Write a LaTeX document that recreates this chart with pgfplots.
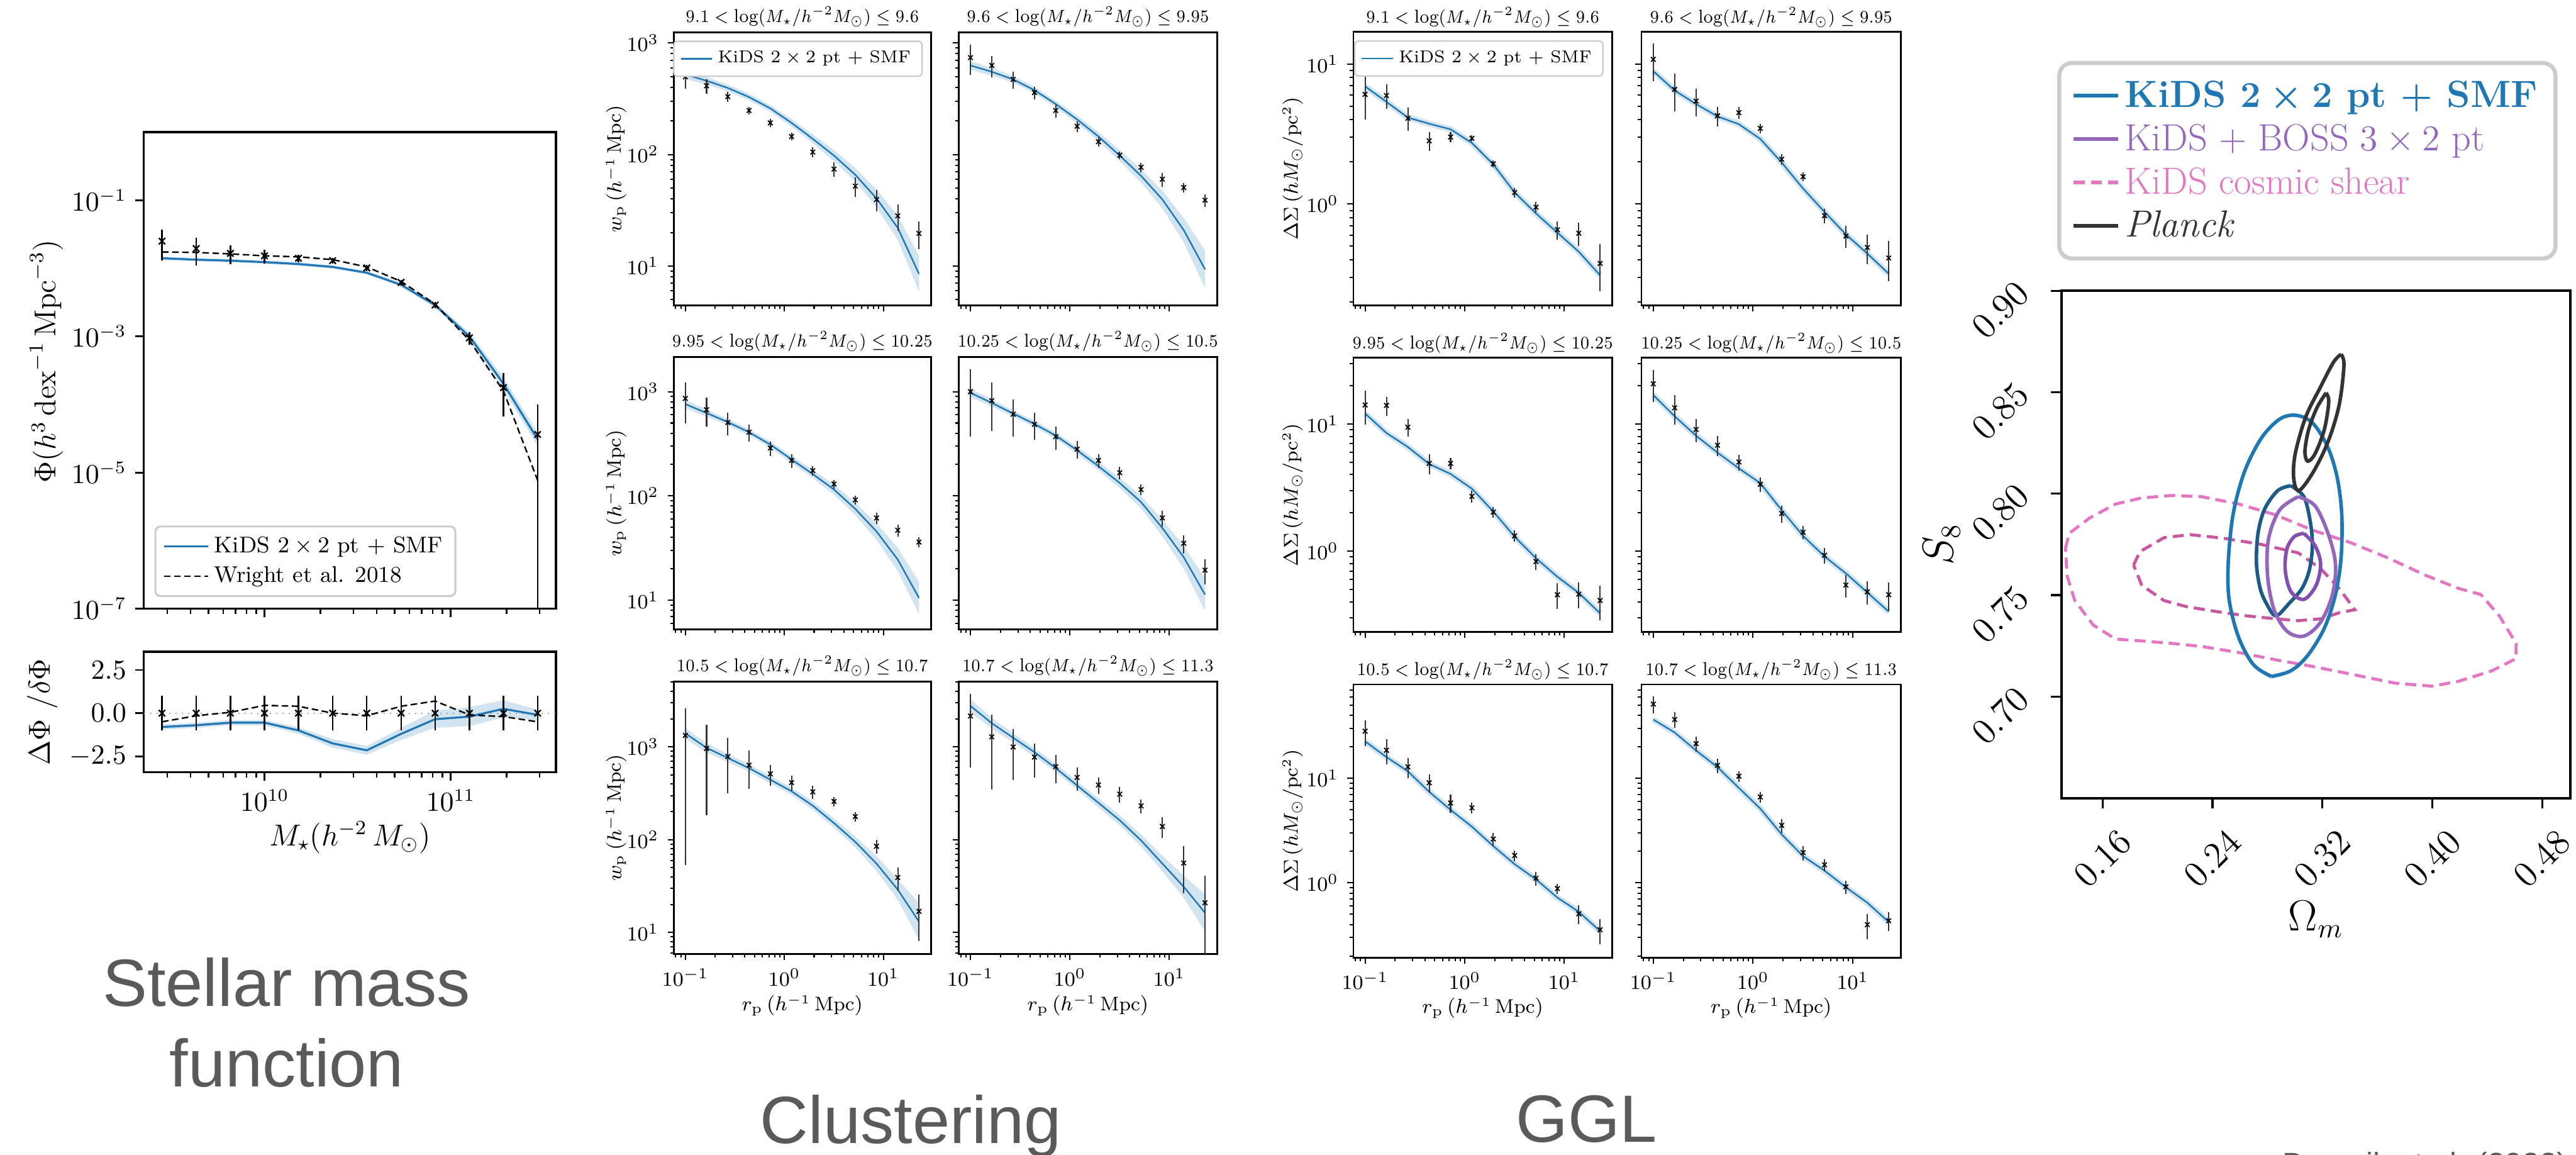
\documentclass[border=0pt]{standalone}
\usepackage{amsmath}
\usepackage{fontspec}
\usepackage{pgfplots}
\pgfplotsset{compat=1.18}
\usepackage{pgfplotstable}
\usepgfplotslibrary{fillbetween}
\newfontfamily\slidesans{Liberation Sans}

\definecolor{c0}{HTML}{1F77B4}
\definecolor{bandblue}{rgb}{0.824,0.893,0.941}
\definecolor{c0dark}{HTML}{1C5A87}
\definecolor{cpurple}{HTML}{9467BD}
\definecolor{cpurpledark}{HTML}{8450B0}
\definecolor{cpink}{HTML}{E377C2}
\definecolor{cpinkdark}{HTML}{C9589F}
\definecolor{cplanck}{HTML}{333333}
\definecolor{slidegray}{HTML}{5A5A5A}
\definecolor{legframe}{HTML}{CCCCCC}

\newcommand{\rplabel}{$r_{\mathrm{p}}\,(h^{-1}\,\mathrm{Mpc})$}
\newcommand{\wplabel}{$w_{\mathrm{p}}\,(h^{-1}\,\mathrm{Mpc})$}
\newcommand{\dslabel}{$\Delta\Sigma\,(hM_\odot/\mathrm{pc}^2)$}
\newcommand{\mbin}[2]{$#1<\log(M_\star/h^{-2}M_\odot)\leq #2$}

% ---------- stellar mass function ----------
\pgfplotstableread{
x y ep em m lo hi w
2.81e9 0.0251 0.012 0.012 0.01409 0.01330 0.01492 0.01742
4.29e9 0.01954 0.0085 0.0085 0.01343 0.01268 0.01422 0.01714
6.55e9 0.0166 0.005 0.005 0.01298 0.01226 0.01375 0.01633
9.98e9 0.01528 0.0035 0.0035 0.01236 0.01167 0.01309 0.01528
1.52e10 0.01409 0.0017 0.0017 0.01158 0.01094 0.01226 0.01479
2.32e10 0.0130 0.0012 0.0012 0.01050 0.00991 0.01112 0.01343
3.54e10 0.01016 0.001 0.001 0.00863 0.00815 0.00914 0.01050
5.41e10 0.00622 0.0006 0.0006 0.00574 0.00536 0.00615 0.00644
8.24e10 0.00289 0.0003 0.0003 0.00289 0.00264 0.00317 0.00299
1.26e11 9.53e-4 2e-4 2e-4 1.00e-3 8.71e-4 1.148e-3 8.77e-4
1.92e11 1.77e-4 1.1e-4 1.1e-4 2.02e-4 1.64e-4 2.49e-4 1.58e-4
2.93e11 3.63e-5 6.4e-5 3.629e-5 3.08e-5 2.45e-5 3.88e-5 7.71e-6
}\smf

\pgfplotstableread{
x z e w m lo hi
2.81e9 0 1 -0.5 -0.8 -0.95 -0.65
4.29e9 0 1 -0.15 -0.7 -0.85 -0.55
6.55e9 0 1 0.05 -0.55 -0.7 -0.4
9.98e9 0 1 0.45 -0.55 -0.7 -0.4
1.52e10 0 1 0.4 -1.0 -1.2 -0.8
2.32e10 0 1 0.0 -1.75 -2.0 -1.5
3.54e10 0 1 -0.15 -2.15 -2.4 -1.9
5.41e10 0 1 0.4 -1.2 -1.55 -0.85
8.24e10 0 1 0.7 -0.35 -0.85 0.15
1.26e11 0 1 -0.1 -0.2 -0.75 0.35
1.92e11 0 1 -0.2 0.25 -0.25 0.75
2.93e11 0 1 -0.5 -0.1 -0.4 0.2
}\smfres

% ---------- projected clustering ----------
\pgfplotstableread{
x y r m lo hi
0.1000 497 0.22 521 475 571
0.1639 413 0.15 458 422.5 496.5
0.2687 330 0.10 395 368.5 423.4
0.4404 248 0.08 327 305 350.5
0.7219 192 0.08 259 241.6 277.6
1.183 145 0.075 192 177.1 208.1
1.940 105 0.10 138 125.9 151.2
3.179 74 0.15 97.7 87.1 109.6
5.211 52 0.20 65.8 57.3 75.5
8.541 39.5 0.22 40.4 33.6 48.6
14.00 28.2 0.27 22.0 17.1 28.3
22.94 19.6 0.28 8.5 5.88 12.3
}\cA
\pgfplotstableread{
x y r m lo hi
0.1000 739 0.30 628 573 688
0.1639 628 0.22 551 508 597
0.2687 471 0.17 471 439 505
0.4404 359 0.13 377 352 404
0.7219 248 0.14 283 264 303
1.183 179 0.11 206 190 223
1.940 130 0.10 145 132 159
3.179 98.6 0.08 97.7 87.1 109.6
5.211 76.7 0.10 64.3 56.0 73.8
8.541 60 0.14 39.5 32.9 47.5
14.00 50.5 0.10 21.0 16.3 27.0
22.94 38.9 0.13 9.33 6.31 13.8
}\cB
\pgfplotstableread{
x y r m lo hi
0.1000 861 0.42 760 693 833
0.1639 671 0.31 624 576 676
0.2687 506 0.25 511 477 548
0.4404 408 0.19 408 381 437
0.7219 288 0.16 311 290 333
1.183 219 0.15 224 207 243
1.940 175 0.11 162 148 178
3.179 130 0.10 115 102.5 129
5.211 91.6 0.10 75.1 65.4 86.2
8.541 61.5 0.13 45.6 37.9 54.8
14.00 46.8 0.13 24.5 19.0 31.6
22.94 36.1 0.11 10.5 7.33 15.0
}\cC
\pgfplotstableread{
x y r m lo hi
0.1000 1000 0.63 975 890 1069
0.1639 820 0.49 780 720 846
0.2687 608 0.39 617 576 661
0.4404 486 0.29 490 457 525
0.7219 370 0.25 379 354 406
1.183 281 0.19 274 253 297
1.940 219 0.15 193 176 212
3.179 167 0.14 133 118.5 149
5.211 115 0.12 87.3 76.0 100.2
8.541 61.5 0.17 49.2 40.9 59.1
14.00 35.1 0.20 25.8 20.0 33.2
22.94 19.4 0.27 11.3 7.89 16.2
}\cD
\pgfplotstableread{
x y r m lo hi
0.1000 1333 0.96 1403 1222 1611
0.1639 964 0.81 979 873 1098
0.2687 789 0.60 761 686 844
0.4404 636 0.44 592 540 649
0.7219 513 0.25 444 405 487
1.183 413 0.18 333 304 365
1.940 328 0.16 233 210 258
3.179 259 0.12 151 134.6 169.4
5.211 178 0.12 94.8 82.6 108.8
8.541 85.1 0.17 55.3 46.0 66.5
14.00 39.2 0.28 29.0 22.5 37.4
22.94 16.9 0.52 13.1 8.27 20.8
}\cE
\pgfplotstableread{
x y r m lo hi
0.1000 2158 0.72 2773 2360 3258
0.1639 1286 0.73 1803 1571 2070
0.2687 1000 0.56 1259 1122 1413
0.4404 778 0.40 879 793 975
0.7219 614 0.34 592 534 657
1.183 470 0.28 385 347 427
1.940 390 0.20 250 223 280.5
3.179 310 0.19 162 142.7 183.9
5.211 232 0.17 98.3 84.7 114.1
8.541 139 0.25 55.3 45.5 67.2
14.00 56.1 0.53 31.1 23.6 41.0
22.94 20.9 0.95 16.3 10.3 25.8
}\cF

% ---------- galaxy-galaxy lensing ----------
\pgfplotstableread{
x y r m
0.1000 6.07 0.34 6.93
0.1639 5.96 0.20 5.37
0.2687 4.10 0.19 4.15
0.4404 2.83 0.15 3.75
0.7219 3.01 0.08 3.42
1.183 2.95 0.055 2.73
1.940 1.94 0.06 1.92
3.179 1.21 0.075 1.21
5.211 0.95 0.09 0.857
8.541 0.656 0.15 0.625
14.00 0.619 0.19 0.457
22.94 0.377 0.37 0.310
}\gA
\pgfplotstableread{
x y r m
0.1000 10.8 0.30 8.91
0.1639 6.59 0.30 6.47
0.2687 5.44 0.22 5.18
0.4404 4.27 0.16 4.23
0.7219 4.50 0.095 3.72
1.183 3.47 0.075 2.92
1.940 2.09 0.085 1.98
3.179 1.57 0.075 1.29
5.211 0.826 0.12 0.879
8.541 0.592 0.18 0.607
14.00 0.490 0.24 0.443
22.94 0.412 0.32 0.318
}\gB
\pgfplotstableread{
x y r m
0.1000 14.1 0.30 12.1
0.1639 14.0 0.17 8.5
0.2687 9.44 0.16 6.6
0.4404 4.9 0.18 4.85
0.7219 4.9 0.10 4.05
1.183 2.7 0.11 3.1
1.940 2.03 0.10 2.05
3.179 1.32 0.10 1.30
5.211 0.83 0.14 0.88
8.541 0.455 0.23 0.63
14.00 0.46 0.23 0.47
22.94 0.41 0.30 0.325
}\gC
\pgfplotstableread{
x y r m
0.1000 20.7 0.28 16.9
0.1639 13.4 0.26 11.5
0.2687 9.06 0.21 8.09
0.4404 6.81 0.18 5.96
0.7219 5.03 0.14 4.48
1.183 3.36 0.13 3.43
1.940 1.98 0.15 2.10
3.179 1.41 0.12 1.32
5.211 0.929 0.14 0.910
8.541 0.542 0.20 0.670
14.00 0.480 0.21 0.474
22.94 0.455 0.25 0.335
}\gD
\pgfplotstableread{
x y r m
0.1000 28.3 0.28 22.6
0.1639 18.6 0.27 16.0
0.2687 12.9 0.22 11.7
0.4404 9.08 0.20 7.44
0.7219 5.82 0.20 5.0
1.183 5.23 0.12 3.45
1.940 2.63 0.15 2.25
3.179 1.83 0.12 1.51
5.211 1.11 0.15 1.08
8.541 0.883 0.11 0.723
14.00 0.506 0.20 0.529
22.94 0.356 0.27 0.345
}\gE
\pgfplotstableread{
x y r m
0.1000 51.4 0.19 36.6
0.1639 36.6 0.17 27.5
0.2687 21.5 0.16 18.5
0.4404 13.3 0.16 12.8
0.7219 10.5 0.12 8.11
1.183 6.64 0.12 5.14
1.940 3.55 0.15 2.91
3.179 1.95 0.16 1.80
5.211 1.49 0.13 1.31
8.541 0.918 0.15 0.908
14.00 0.398 0.27 0.646
22.94 0.434 0.20 0.422
}\gF

% One clustering panel: #1,#2 position, #3 width, #4 height, #5 ymin, #6 ymax,
% #7 title, #8 table, #9 further axis options
\newcommand{\cluspanel}[9]{%
\begin{axis}[at={(#1,#2)}, anchor=north west, scale only axis, width=#3, height=#4,
  xmode=log, ymode=log, xmin=0.0762, xmax=30.34, ymin=#5, ymax=#6,
  tick align=outside, tick pos=left, axis line style={line width=0.7pt},
  major tick length=2.4pt, minor tick length=1.4pt,
  every tick/.style={black, line width=0.5pt},
  tick label style={font=\fontsize{8}{9.6}\selectfont},
  label style={font=\fontsize{7.8}{9.4}\selectfont},
  every axis title shift=0pt,
  title style={font=\fontsize{7.4}{8.9}\selectfont, at={(0.5,1.057)}, anchor=center, xscale=0.9},
  ylabel style={at={(axis description cs:-0.2235,0.5)}, anchor=center},
  xlabel style={at={(axis description cs:0.5,-0.189)}, anchor=center},
  legend style={at={(0.968,0.97)}, anchor=north east, draw=legframe, line width=0.6pt,
    rounded corners=1.5pt, fill=white, font=\fontsize{6.8}{8.2}\selectfont,
    inner xsep=2.5pt, inner ysep=1.8pt},
  legend image code/.code={\draw[##1] (0pt,0pt) -- (12.4pt,0pt);},
  title={#7}, #9]
\addplot[draw=none, name path=bandlo, forget plot] table[x=x,y=lo]{#8};
\addplot[draw=none, name path=bandhi, forget plot] table[x=x,y=hi]{#8};
\addplot[bandblue, forget plot] fill between[of=bandlo and bandhi];
\addplot[c0, line width=0.6pt, mark=none] table[x=x,y=m]{#8};
\addplot[only marks, mark=x, mark size=1.3pt, mark options={black, line width=0.45pt, solid}, forget plot,
  error bars/.cd, y dir=both, y explicit relative, error mark=none,
  error bar style={black!80, line width=0.5pt}] table[x=x,y=y,y error=r]{#8};
\end{axis}}

% One lensing panel, same arguments
\newcommand{\gglpanel}[9]{%
\begin{axis}[at={(#1,#2)}, anchor=north west, scale only axis, width=#3, height=#4,
  xmode=log, ymode=log, xmin=0.0762, xmax=30.34, ymin=#5, ymax=#6,
  tick align=outside, tick pos=left, axis line style={line width=0.7pt},
  major tick length=2.4pt, minor tick length=1.4pt,
  every tick/.style={black, line width=0.5pt},
  tick label style={font=\fontsize{8}{9.6}\selectfont},
  label style={font=\fontsize{7.8}{9.4}\selectfont},
  every axis title shift=0pt,
  title style={font=\fontsize{7.4}{8.9}\selectfont, at={(0.5,1.054)}, anchor=center, xscale=0.9},
  ylabel style={at={(axis description cs:-0.234,0.5)}, anchor=center},
  xlabel style={at={(axis description cs:0.5,-0.185)}, anchor=center},
  legend style={at={(0.967,0.969)}, anchor=north east, draw=legframe, line width=0.6pt,
    rounded corners=1.5pt, fill=white, font=\fontsize{6.8}{8.2}\selectfont,
    inner xsep=2.5pt, inner ysep=1.8pt},
  legend image code/.code={\draw[##1] (0pt,0pt) -- (12.4pt,0pt);},
  title={#7}, #9]
\addplot[bandblue, line width=2.4pt, forget plot] table[x=x,y=m]{#8};
\addplot[c0, line width=0.6pt, mark=none] table[x=x,y=m]{#8};
\addplot[only marks, mark=x, mark size=1.3pt, mark options={black, line width=0.45pt, solid}, forget plot,
  error bars/.cd, y dir=both, y explicit relative, error mark=none,
  error bar style={black!80, line width=0.5pt}] table[x=x,y=y,y error=r]{#8};
\end{axis}}

\begin{document}
\begin{tikzpicture}

% ===== stellar mass function =====
\begin{axis}[at={(57pt,-52.4pt)}, anchor=north west, scale only axis,
  width=163.4pt, height=188.8pt,
  xmode=log, ymode=log, xmin=2.244e9, xmax=3.681e11, ymin=1e-7, ymax=1,
  ytick={1e-7,1e-5,1e-3,1e-1}, yminorticks=false, xticklabels={},
  tick align=outside, tick pos=left, axis line style={line width=0.9pt},
  major tick length=3.4pt, minor tick length=2pt,
  every tick/.style={black, line width=0.7pt},
  tick label style={font=\fontsize{10.5}{12.6}\selectfont},
  ylabel={$\Phi(h^3\,\mathrm{dex}^{-1}\,\mathrm{Mpc}^{-3})$},
  ylabel style={font=\fontsize{12}{14}\selectfont, at={(axis description cs:-0.236,0.519)}, anchor=center},
  legend style={at={(0.0257,0.0244)}, anchor=south west, draw=legframe, line width=0.8pt,
    rounded corners=2pt, fill=white, font=\fontsize{9}{11}\selectfont, inner xsep=3pt, inner ysep=2pt},
  legend cell align=left,
  legend image code/.code={\draw[#1] (0pt,0pt) -- (17.6pt,0pt);},
]
\addplot[draw=none, name path=smflo, forget plot] table[x=x,y=lo]{\smf};
\addplot[draw=none, name path=smfhi, forget plot] table[x=x,y=hi]{\smf};
\addplot[bandblue, forget plot] fill between[of=smflo and smfhi];
\addplot[c0, line width=0.8pt] table[x=x,y=m]{\smf};
\addlegendentry{KiDS $2\times2$ pt $+$ SMF}
\addplot[black, line width=0.6pt, dash pattern=on 2.6pt off 1.4pt] table[x=x,y=w]{\smf};
\addlegendentry{Wright et al. 2018}
\addplot[only marks, mark=x, mark size=1.8pt, mark options={black, line width=0.6pt}, forget plot,
  error bars/.cd, y dir=both, y explicit, error mark=none, error bar style={black, line width=0.6pt}]
  table[x=x, y=y, y error plus=ep, y error minus=em]{\smf};
\end{axis}

\begin{axis}[at={(57pt,-258.2pt)}, anchor=north west, scale only axis,
  width=163.4pt, height=47.8pt,
  xmode=log, xmin=2.244e9, xmax=3.681e11, ymin=-3.42, ymax=3.56, ytick={-2.5,0,2.5},
  yticklabel style={/pgf/number format/.cd, fixed, fixed zerofill, precision=1},
  tick align=outside, tick pos=left, axis line style={line width=0.9pt},
  major tick length=3.4pt, minor tick length=2pt,
  every tick/.style={black, line width=0.7pt},
  tick label style={font=\fontsize{10.5}{12.6}\selectfont},
  xlabel={$M_\star(h^{-2}\,M_\odot)$},
  xlabel style={font=\fontsize{12}{14}\selectfont, at={(axis description cs:0.5,-0.54)}, anchor=center},
  ylabel={$\Delta\Phi\ /\delta\Phi$},
  ylabel style={font=\fontsize{12}{14}\selectfont, at={(axis description cs:-0.246,0.5)}, anchor=center},
]
\addplot[gray!70, dotted, line width=0.5pt, forget plot] coordinates {(2.244e9,0) (3.681e11,0)};
\addplot[draw=none, name path=reslo, forget plot] table[x=x,y=lo]{\smfres};
\addplot[draw=none, name path=reshi, forget plot] table[x=x,y=hi]{\smfres};
\addplot[bandblue, forget plot] fill between[of=reslo and reshi];
\addplot[c0, line width=0.8pt] table[x=x,y=m]{\smfres};
\addplot[black, line width=0.6pt, dash pattern=on 2.6pt off 1.4pt] table[x=x,y=w]{\smfres};
\addplot[only marks, mark=x, mark size=1.8pt, mark options={black, line width=0.6pt},
  error bars/.cd, y dir=both, y explicit, error mark=none, error bar style={black, line width=0.6pt}]
  table[x=x, y=z, y error=e]{\smfres};
\end{axis}

% ===== clustering =====
\cluspanel{267pt}{-12.8pt}{102pt}{108.2pt}{4.44}{1245}{\mbin{9.1}{9.6}}{\cA}%
  {xticklabels={}, ylabel={\wplabel}, legend entries={{KiDS $2\times2$ pt $+$ SMF}}}
\cluspanel{380pt}{-12.8pt}{102.4pt}{108.2pt}{4.44}{1245}{\mbin{9.6}{9.95}}{\cB}%
  {xticklabels={}, yticklabels={}}
\cluspanel{267pt}{-141.4pt}{102pt}{108pt}{5.24}{2158}{\mbin{9.95}{10.25}}{\cC}%
  {xticklabels={}, ylabel={\wplabel}}
\cluspanel{380pt}{-141.4pt}{102.4pt}{108pt}{5.24}{2158}{\mbin{10.25}{10.5}}{\cD}%
  {xticklabels={}, yticklabels={}}
\cluspanel{267pt}{-270pt}{102pt}{108pt}{5.87}{5093}{\mbin{10.5}{10.7}}{\cE}%
  {ylabel={\wplabel}, xlabel={\rplabel}}
\cluspanel{380pt}{-270pt}{102.4pt}{108pt}{5.87}{5093}{\mbin{10.7}{11.3}}{\cF}%
  {yticklabels={}, xlabel={\rplabel}}

% ===== galaxy-galaxy lensing =====
\gglpanel{536.4pt}{-12.6pt}{102.6pt}{108.4pt}{0.189}{17.0}{\mbin{9.1}{9.6}}{\gA}%
  {xticklabels={}, ylabel={\dslabel}, legend entries={{KiDS $2\times2$ pt $+$ SMF}}}
\gglpanel{650.6pt}{-12.6pt}{102.8pt}{108.4pt}{0.189}{17.0}{\mbin{9.6}{9.95}}{\gB}%
  {xticklabels={}, yticklabels={}}
\gglpanel{536.4pt}{-141.8pt}{102.6pt}{108.6pt}{0.232}{33.1}{\mbin{9.95}{10.25}}{\gC}%
  {xticklabels={}, ylabel={\dslabel}}
\gglpanel{650.6pt}{-141.8pt}{102.8pt}{108.6pt}{0.232}{33.1}{\mbin{10.25}{10.5}}{\gD}%
  {xticklabels={}, yticklabels={}}
\gglpanel{536.4pt}{-271.2pt}{102.6pt}{108.2pt}{0.193}{79.3}{\mbin{10.5}{10.7}}{\gE}%
  {ylabel={\dslabel}, xlabel={\rplabel}}
\gglpanel{650.6pt}{-271.2pt}{102.8pt}{108.2pt}{0.193}{79.3}{\mbin{10.7}{11.3}}{\gF}%
  {yticklabels={}, xlabel={\rplabel}}

% ===== S8 - Omega_m constraints =====
\begin{axis}[at={(817pt,-115.2pt)}, anchor=north west, scale only axis,
  width=201.8pt, height=201pt,
  xmin=0.1299, xmax=0.5006, ymin=0.65, ymax=0.90,
  xtick={0.16,0.24,0.32,0.40,0.48}, ytick={0.70,0.75,0.80,0.85,0.90},
  xticklabels={$0.16$,$0.24$,$0.32$,$0.40$,$0.48$},
  yticklabels={$0.70$,$0.75$,$0.80$,$0.85$,$0.90$},
  tick align=outside, tick pos=left, major tick length=4.1pt,
  every tick/.style={black, line width=0.8pt},
  axis line style={line width=1pt},
  tick label style={font=\fontsize{14}{17}\selectfont},
  xticklabel style={anchor=center, yshift=-20pt, rotate=45},
  yticklabel style={anchor=center, xshift=-20pt, yshift=-7.6pt, rotate=45},
  xlabel={$\Omega_m$}, ylabel={$S_8$},
  label style={font=\fontsize{16}{19}\selectfont},
  xlabel style={at={(axis description cs:0.5,-0.239)}, anchor=center},
  ylabel style={at={(axis description cs:-0.235,0.5)}, anchor=center},
  legend style={at={(-0.008,1.0597)}, anchor=south west, draw=legframe, line width=1.6pt,
    rounded corners=5pt, fill=white, font=\fontsize{15}{17}\selectfont,
    inner xsep=5pt, inner ysep=5pt, row sep=1.2pt},
  legend cell align=left,
  legend image code/.code={\draw[#1] (0pt,0pt) -- (17.6pt,0pt);},
]
% KiDS cosmic shear
\addplot[cpink, line width=1.2pt, dash pattern=on 4.4pt off 2.4pt, forget plot] coordinates {
(0.1329,0.7729) (0.1356,0.7804) (0.1505,0.7880) (0.1695,0.7949) (0.1885,0.7979) (0.2102,0.7991)
(0.2319,0.7985) (0.2590,0.7949) (0.2861,0.7895) (0.3132,0.7819) (0.3403,0.7759) (0.3675,0.7684)
(0.3946,0.7599) (0.4190,0.7533) (0.4353,0.7503) (0.4488,0.7398) (0.4610,0.7262) (0.4610,0.7187)
(0.4434,0.7127) (0.4190,0.7075) (0.4000,0.7051) (0.3729,0.7066) (0.3403,0.7111) (0.3132,0.7148)
(0.2861,0.7181) (0.2590,0.7217) (0.2319,0.7247) (0.2102,0.7262) (0.1885,0.7274) (0.1695,0.7283)
(0.1532,0.7352) (0.1397,0.7473) (0.1342,0.7593) (0.1329,0.7729)};
\addplot[cpinkdark, line width=1.2pt, dash pattern=on 4.4pt off 2.4pt, forget plot] coordinates {
(0.1825,0.7648) (0.1871,0.7714) (0.2047,0.7783) (0.2237,0.7798) (0.2481,0.7780) (0.2753,0.7750)
(0.3024,0.7708) (0.3187,0.7630) (0.3322,0.7533) (0.3436,0.7428) (0.3322,0.7413) (0.3187,0.7383)
(0.3024,0.7374) (0.2861,0.7383) (0.2644,0.7398) (0.2427,0.7419) (0.2210,0.7443) (0.2047,0.7473)
(0.1885,0.7548) (0.1825,0.7648)};
% KiDS 2x2pt + SMF
\addplot[c0, line width=1.4pt, smooth, tension=0.55, forget plot] coordinates {
(0.2829,0.7099) (0.2698,0.7157) (0.2590,0.7292) (0.2522,0.7473) (0.2514,0.7654) (0.2549,0.7895)
(0.2631,0.8105) (0.2753,0.8271) (0.2888,0.8367) (0.3010,0.8386) (0.3132,0.8346) (0.3241,0.8226)
(0.3309,0.8075) (0.3341,0.7895) (0.3336,0.7684) (0.3295,0.7503) (0.3214,0.7337) (0.3092,0.7202)
(0.2970,0.7127) (0.2829,0.7099)};
\addplot[c0dark, line width=1.4pt, smooth, tension=0.55, forget plot] coordinates {
(0.2970,0.8039) (0.3065,0.7985) (0.3111,0.7864) (0.3127,0.7744) (0.3105,0.7624) (0.3051,0.7533)
(0.2956,0.7458) (0.2861,0.7398) (0.2793,0.7458) (0.2747,0.7533) (0.2720,0.7654) (0.2731,0.7804)
(0.2780,0.7925) (0.2875,0.8015) (0.2970,0.8039)};
% KiDS + BOSS 3x2pt
\addplot[cpurple, line width=1.4pt, smooth, tension=0.55, forget plot] coordinates {
(0.3024,0.7985) (0.3146,0.7940) (0.3241,0.7804) (0.3295,0.7654) (0.3273,0.7503) (0.3187,0.7367)
(0.3065,0.7298) (0.2942,0.7322) (0.2848,0.7428) (0.2801,0.7593) (0.2807,0.7774) (0.2888,0.7919)
(0.3024,0.7985)};
\addplot[cpurpledark, line width=1.4pt, smooth, tension=0.55, forget plot] coordinates {
(0.3065,0.7804) (0.3146,0.7744) (0.3187,0.7654) (0.3154,0.7548) (0.3065,0.7479) (0.2970,0.7518)
(0.2929,0.7624) (0.2942,0.7729) (0.2997,0.7789) (0.3065,0.7804)};
% Planck
\addplot[cplanck, line width=1.4pt, smooth, tension=0.55, forget plot] coordinates {
(0.3336,0.8687) (0.3357,0.8633) (0.3322,0.8437) (0.3241,0.8256) (0.3132,0.8105) (0.3029,0.8015)
(0.2991,0.8075) (0.3002,0.8196) (0.3078,0.8377) (0.3187,0.8527) (0.3281,0.8648) (0.3336,0.8687)};
\addplot[cplanck, line width=1.4pt, smooth, tension=0.55, forget plot] coordinates {
(0.3227,0.8497) (0.3246,0.8452) (0.3214,0.8316) (0.3146,0.8196) (0.3092,0.8160) (0.3073,0.8211)
(0.3100,0.8316) (0.3159,0.8422) (0.3227,0.8497)};
\addlegendimage{c0, line width=1.4pt}
\addlegendentry{\textcolor{c0}{\textbf{KiDS $\boldsymbol{2\times2}$ pt $\boldsymbol{+}$ SMF}}}
\addlegendimage{cpurple, line width=1.4pt}
\addlegendentry{\textcolor{cpurple}{KiDS $+$ BOSS $3\times2$ pt}}
\addlegendimage{cpink, line width=1.4pt, dash pattern=on 4.4pt off 2.4pt}
\addlegendentry{\textcolor{cpink}{KiDS cosmic shear}}
\addlegendimage{cplanck, line width=1.4pt}
\addlegendentry{\textcolor{cplanck}{\textit{Planck}}}
\end{axis}

% ===== slide captions =====
\begin{scope}[every node/.style={text=slidegray, inner sep=0pt}]
\node[anchor=base, font=\slidesans\fontsize{26.5}{30}\selectfont] at (113.6pt,-398.8pt) {Stellar mass};
\node[anchor=base, font=\slidesans\fontsize{26.5}{30}\selectfont] at (113.6pt,-430.6pt) {function};
\node[anchor=base, font=\slidesans\fontsize{26.5}{30}\selectfont] at (361pt,-453pt) {Clustering};
\node[anchor=base, font=\slidesans\fontsize{26.5}{30}\selectfont] at (628.8pt,-452.6pt) {GGL};
\node[anchor=base west, font=\slidesans\fontsize{12.4}{14}\selectfont] at (904.6pt,-465.4pt) {Dvornik et al. (2022)};
\end{scope}

% page frame of the slide
\pgfresetboundingbox
\useasboundingbox (0pt,0pt) rectangle (1021pt,-457.6pt);
\end{tikzpicture}
\end{document}
